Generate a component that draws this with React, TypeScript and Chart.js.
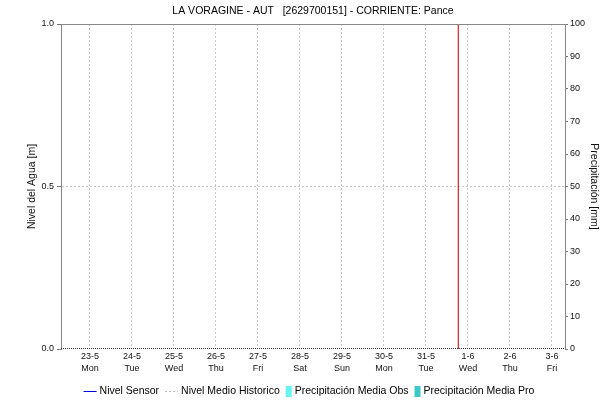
import React, { useEffect, useRef } from 'react';
import { Chart, registerables } from 'chart.js';

Chart.register(...registerables);

const titleText = 'LA VORAGINE - AUT   [2629700151] - CORRIENTE: Pance';
const leftAxisTitle = 'Nivel del Agua [m]';
const rightAxisTitle = 'Precipitación [mm]';

const dayLabels = ['23-5', '24-5', '25-5', '26-5', '27-5', '28-5', '29-5', '30-5', '31-5', '1-6', '2-6', '3-6'];
const weekdayLabels = ['Mon', 'Tue', 'Wed', 'Thu', 'Fri', 'Sat', 'Sun', 'Mon', 'Tue', 'Wed', 'Thu', 'Fri'];
const dayTicks = [0, 1, 2, 3, 4, 5, 6, 7, 8, 9, 10, 11];
const xMin = -0.69;
const xMax = 11.31;

const levelTicks = [0, 0.5, 1];
const precipTicks = [0, 10, 20, 30, 40, 50, 60, 70, 80, 90, 100];

const sensorLevel: { x: number; y: number }[] = [];
const historicLevel: { x: number; y: number }[] = [];
const precipObs: { x: number; y: number }[] = [];
const precipPro: { x: number; y: number }[] = [];
const nowMarkerDay = 8.77;

const FONT = "'Liberation Sans', Arial, sans-serif";

const legendItems = [
  { label: 'Nivel Sensor', kind: 'line', color: '#0000dd' },
  { label: 'Nivel Medio Historico', kind: 'dash', color: '#b8b8b8' },
  { label: 'Precipitación Media Obs', kind: 'box', color: '#66f5f5' },
  { label: 'Precipitación Media Pro', kind: 'box', color: '#3cc8c8' },
];

const decorPlugin = {
  id: 'decor',
  afterDraw(chart: any) {
    const ctx = chart.ctx as CanvasRenderingContext2D;
    const { left, right, top, bottom } = chart.chartArea;
    ctx.save();
    // top border
    ctx.strokeStyle = '#888888';
    ctx.lineWidth = 1;
    ctx.beginPath();
    ctx.moveTo(left, top + 0.5);
    ctx.lineTo(right, top + 0.5);
    ctx.stroke();
    // bottom dotted border
    ctx.strokeStyle = '#333333';
    ctx.setLineDash([1, 1]);
    ctx.beginPath();
    ctx.moveTo(left, Math.round(bottom) - 0.5);
    ctx.lineTo(right, Math.round(bottom) - 0.5);
    ctx.stroke();
    ctx.setLineDash([]);
    // title
    ctx.fillStyle = '#000';
    ctx.font = `10.5px ${FONT}`;
    ctx.textAlign = 'center';
    ctx.textBaseline = 'middle';
    ctx.fillText(titleText, (left + right) / 2, 11);
    // legend
    ctx.font = `10.5px ${FONT}`;
    const symW = (k: string) => (k === 'box' ? 6 : 13);
    const gapSym = 3;
    const gapItem = 6;
    let total = 0;
    legendItems.forEach((it, i) => {
      total += symW(it.kind) + gapSym + ctx.measureText(it.label).width;
      if (i < legendItems.length - 1) total += gapItem;
    });
    let x = chart.width / 2 + 1 - total / 2;
    const y = 391;
    ctx.textAlign = 'left';
    legendItems.forEach((it) => {
      const w = symW(it.kind);
      if (it.kind === 'box') {
        ctx.fillStyle = it.color;
        ctx.fillRect(x, y - 5, w, 11);
      } else {
        ctx.strokeStyle = it.color;
        ctx.lineWidth = 1;
        ctx.setLineDash(it.kind === 'dash' ? [2, 2] : []);
        ctx.beginPath();
        ctx.moveTo(x, y + 0.5);
        ctx.lineTo(x + w, y + 0.5);
        ctx.stroke();
        ctx.setLineDash([]);
      }
      x += w + gapSym;
      ctx.fillStyle = '#000';
      ctx.fillText(it.label, x, y);
      x += ctx.measureText(it.label).width + gapItem;
    });
    ctx.restore();
  },
};

export default function App() {
  const ref = useRef<HTMLCanvasElement | null>(null);

  useEffect(() => {
    document.body.style.margin = '0';
    const canvas = ref.current;
    if (!canvas) return;
    const chart = new Chart(canvas, {
      type: 'line',
      data: {
        datasets: [
          {
            type: 'bar',
            label: 'Precipitación Media Obs',
            data: precipObs,
            backgroundColor: '#66f5f5',
            yAxisID: 'y1',
          },
          {
            type: 'bar',
            label: 'Precipitación Media Pro',
            data: precipPro,
            backgroundColor: '#3cc8c8',
            yAxisID: 'y1',
          },
          {
            label: 'Nivel Medio Historico',
            data: historicLevel,
            borderColor: '#b8b8b8',
            borderDash: [2, 2],
            borderWidth: 1,
            pointRadius: 0,
            yAxisID: 'y',
          },
          {
            label: 'Nivel Sensor',
            data: sensorLevel,
            borderColor: '#0000dd',
            borderWidth: 1,
            pointRadius: 0,
            yAxisID: 'y',
          },
          {
            label: 'now',
            data: [
              { x: nowMarkerDay, y: levelTicks[0] },
              { x: nowMarkerDay, y: levelTicks[levelTicks.length - 1] },
            ],
            borderColor: '#e03030',
            borderWidth: 1.3,
            pointRadius: 0,
            yAxisID: 'y',
          },
        ],
      } as any,
      options: {
        responsive: false,
        animation: false,
        layout: { padding: { top: 24, left: 0, right: 0, bottom: 0 } },
        plugins: {
          legend: { display: false },
          title: { display: false },
          tooltip: { enabled: false },
        },
        scales: {
          x: {
            type: 'linear',
            min: xMin,
            max: xMax,
            offset: false,
            afterBuildTicks: (scale: any) => {
              scale.ticks = dayTicks.map((v) => ({ value: v }));
            },
            afterFit: (scale: any) => {
              scale.height = 53;
            },
            ticks: {
              autoSkip: false,
              maxRotation: 0,
              padding: 2,
              color: '#111',
              font: { family: FONT, size: 9, lineHeight: 1.33 },
              callback: (v: any) => {
                const i = dayTicks.indexOf(Number(v));
                return i >= 0 ? [dayLabels[i], weekdayLabels[i]] : '';
              },
            },
            grid: {
              offset: false,
              color: '#c8c8c8',
              lineWidth: 1,
              drawTicks: false,
            },
            border: { display: false, dash: [2, 2] },
          } as any,
          y: {
            type: 'linear',
            position: 'left',
            min: 0,
            max: 1,
            afterBuildTicks: (scale: any) => {
              scale.ticks = levelTicks.map((v) => ({ value: v }));
            },
            afterFit: (scale: any) => {
              scale.width = 61;
            },
            ticks: {
              padding: 3,
              color: '#111',
              font: { family: FONT, size: 9 },
              callback: (v: any) => Number(v).toFixed(1),
            },
            grid: {
              color: (c: any) => (c.tick && (c.tick.value === 0 || c.tick.value === 1) ? 'rgba(0,0,0,0)' : '#c8c8c8'),
              tickColor: '#777',
              tickLength: 4,
              tickBorderDash: [],
            },
            border: { display: true, color: '#888', width: 1, dash: [2, 2] },
            title: {
              display: true,
              text: leftAxisTitle,
              color: '#111',
              font: { family: FONT, size: 10.5 },
              padding: { top: 26, bottom: 0 },
            },
          } as any,
          y1: {
            type: 'linear',
            position: 'right',
            min: 0,
            max: 100,
            afterBuildTicks: (scale: any) => {
              scale.ticks = precipTicks.map((v) => ({ value: v }));
            },
            afterFit: (scale: any) => {
              scale.width = 51;
            },
            ticks: {
              padding: 2,
              color: '#111',
              font: { family: FONT, size: 9 },
            },
            grid: {
              drawOnChartArea: false,
              tickColor: '#777',
              tickLength: 3,
            },
            border: { display: true, color: '#888', width: 1 },
            title: {
              display: true,
              text: rightAxisTitle,
              color: '#111',
              font: { family: FONT, size: 10.5 },
              padding: { top: 16, bottom: 0 },
            },
          } as any,
        },
      } as any,
      plugins: [decorPlugin],
    });
    return () => chart.destroy();
  }, []);

  return (
    <div style={{ width: 616, height: 402 }}>
      <canvas ref={ref} width={616} height={402} style={{ display: 'block' }} />
    </div>
  );
}
